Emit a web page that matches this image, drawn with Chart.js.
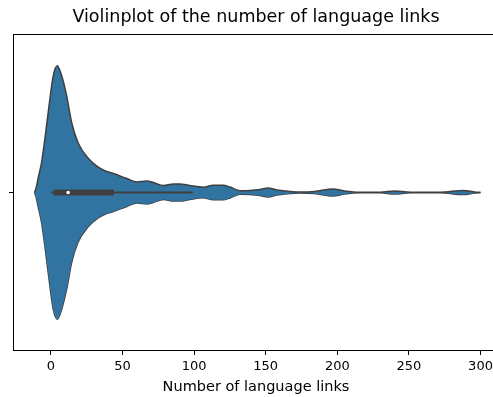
<!DOCTYPE html>
<html>
<head>
<meta charset="utf-8">
<script src="https://cdn.jsdelivr.net/npm/chart.js@4.4.1/dist/chart.umd.min.js"></script>
<style>
  html, body { margin: 0; padding: 0; background: #ffffff; overflow: hidden; }
  #wrap { width: 493px; height: 397px; overflow: hidden; }
  #violin { display: block; }
</style>
</head>
<body>
<div id="wrap"><canvas id="violin" width="506" height="397"></canvas></div>
<script>
// Kernel density of the number of language links (relative height, peak = 1)
const linkGrid = [-11.5, -10.5, -9, -6.5, -3.7, -0.7, 1.6, 4.4, 7.5, 11, 14.5, 19, 26, 33, 38, 43.5,
  53, 60, 67, 71.5, 78.5, 85.5, 90, 97, 106.4, 113.3, 120.3, 125, 132, 139, 146, 151.5, 157.8,
  167, 174, 184, 197, 205, 216, 230, 240, 251, 272, 288, 296, 300];
const densityShape = [0, 0.03, 0.11, 0.24, 0.47, 0.74, 0.92, 1.0, 0.92, 0.76, 0.55, 0.39, 0.27, 0.20, 0.17, 0.15,
  0.11, 0.083, 0.09, 0.079, 0.055, 0.068, 0.068, 0.055, 0.042, 0.058, 0.058, 0.043, 0.014, 0.016, 0.024, 0.035, 0.02,
  0.008, 0.004, 0.008, 0.028, 0.012, 0.002, 0.002, 0.012, 0.002, 0.002, 0.016, 0.004, 0];

// Box summary drawn inside the violin
const whiskerRange = [0, 99];
const quartileRange = [2, 44];
const medianValue = [12];

// Axis ticks
const xTicks = [0, 50, 100, 150, 200, 250, 300];
const yTicks = [0];

const X_MIN = -26.5;
const X_MAX = 312.9;
const VIOLIN_HALF_WIDTH = 0.4;   // half of the violin width in category units
const fillBlue = '#3274a1';
const edgeGray = '#3f3f3f';
const fontFamily = '"DejaVu Sans", sans-serif';

const upper = linkGrid.map((v, i) => ({ x: v, y: densityShape[i] * VIOLIN_HALF_WIDTH }));
const lower = linkGrid.map((v, i) => ({ x: v, y: -densityShape[i] * VIOLIN_HALF_WIDTH }));

// Axes frame on all four sides
const framePlugin = {
  id: 'frame',
  afterDatasetsDraw(chart) {
    const { ctx, chartArea: a } = chart;
    ctx.save();
    ctx.strokeStyle = '#000000';
    ctx.lineWidth = 1;
    ctx.strokeRect(Math.round(a.left) + 0.5, Math.round(a.top) + 0.5,
      Math.round(a.right - a.left) - 1, Math.round(a.bottom - a.top) - 1);
    ctx.restore();
  }
};

new Chart(document.getElementById('violin'), {
  type: 'line',
  data: {
    datasets: [
      {
        label: 'upper',
        data: upper,
        borderColor: edgeGray,
        borderWidth: 1.5,
        backgroundColor: fillBlue,
        fill: '+1',
        pointRadius: 0,
        cubicInterpolationMode: 'monotone',
        order: 3
      },
      {
        label: 'lower',
        data: lower,
        borderColor: edgeGray,
        borderWidth: 1.5,
        fill: false,
        pointRadius: 0,
        cubicInterpolationMode: 'monotone',
        order: 3
      },
      {
        label: 'whiskers',
        data: whiskerRange.map(v => ({ x: v, y: 0 })),
        borderColor: edgeGray,
        borderWidth: 2,
        pointRadius: 0,
        fill: false,
        order: 2
      },
      {
        label: 'quartiles',
        data: quartileRange.map(v => ({ x: v, y: 0 })),
        borderColor: edgeGray,
        borderWidth: 6,
        borderCapStyle: 'butt',
        pointRadius: 0,
        fill: false,
        order: 1
      },
      {
        label: 'median',
        data: medianValue.map(v => ({ x: v, y: 0 })),
        showLine: false,
        pointRadius: 1.8,
        pointBackgroundColor: '#ffffff',
        pointBorderWidth: 0,
        order: 0
      }
    ]
  },
  options: {
    responsive: false,
    animation: false,
    devicePixelRatio: 1,
    layout: { padding: { left: 0, right: 7, top: 0, bottom: 0 } },
    plugins: {
      legend: { display: false },
      tooltip: { enabled: false },
      title: { display: false }
    },
    scales: {
      // Top axis only carries the plot title, centred over the axes
      xTop: {
        type: 'linear',
        position: 'top',
        min: X_MIN,
        max: X_MAX,
        afterFit(scale) {
          scale.height = 34;
          scale.paddingLeft = 0;
          scale.paddingRight = 0;
        },
        border: { display: false },
        grid: { display: false },
        ticks: { display: false },
        title: {
          display: true,
          text: 'Violinplot of the number of language links',
          color: '#000000',
          font: { family: fontFamily, size: 17.5, weight: 'normal' },
          padding: { top: 6.5, bottom: 0 }
        }
      },
      x: {
        type: 'linear',
        position: 'bottom',
        min: X_MIN,
        max: X_MAX,
        afterBuildTicks(scale) { scale.ticks = xTicks.map(v => ({ value: v })); },
        afterFit(scale) {
          scale.height = 46;
          scale.paddingLeft = 0;
          scale.paddingRight = 0;
        },
        border: { display: false },
        grid: { display: true, drawOnChartArea: false, drawTicks: true, tickLength: 4, tickColor: '#000000', tickWidth: 1 },
        ticks: {
          color: '#000000',
          padding: 3.9,
          maxRotation: 0,
          autoSkip: false,
          font: { family: fontFamily, size: 13 }
        },
        title: {
          display: true,
          text: 'Number of language links',
          color: '#000000',
          font: { family: fontFamily, size: 14.5 },
          padding: { top: 2, bottom: 1 }
        }
      },
      y: {
        type: 'linear',
        min: -0.5,
        max: 0.5,
        afterBuildTicks(scale) { scale.ticks = yTicks.map(v => ({ value: v })); },
        afterFit(scale) {
          scale.width = 13;
          scale.paddingTop = 0;
          scale.paddingBottom = 0;
        },
        border: { display: false },
        grid: { display: true, drawOnChartArea: false, drawTicks: true, tickLength: 4, tickColor: '#000000', tickWidth: 1 },
        ticks: { display: false }
      }
    }
  },
  plugins: [framePlugin]
});
</script>
</body>
</html>
